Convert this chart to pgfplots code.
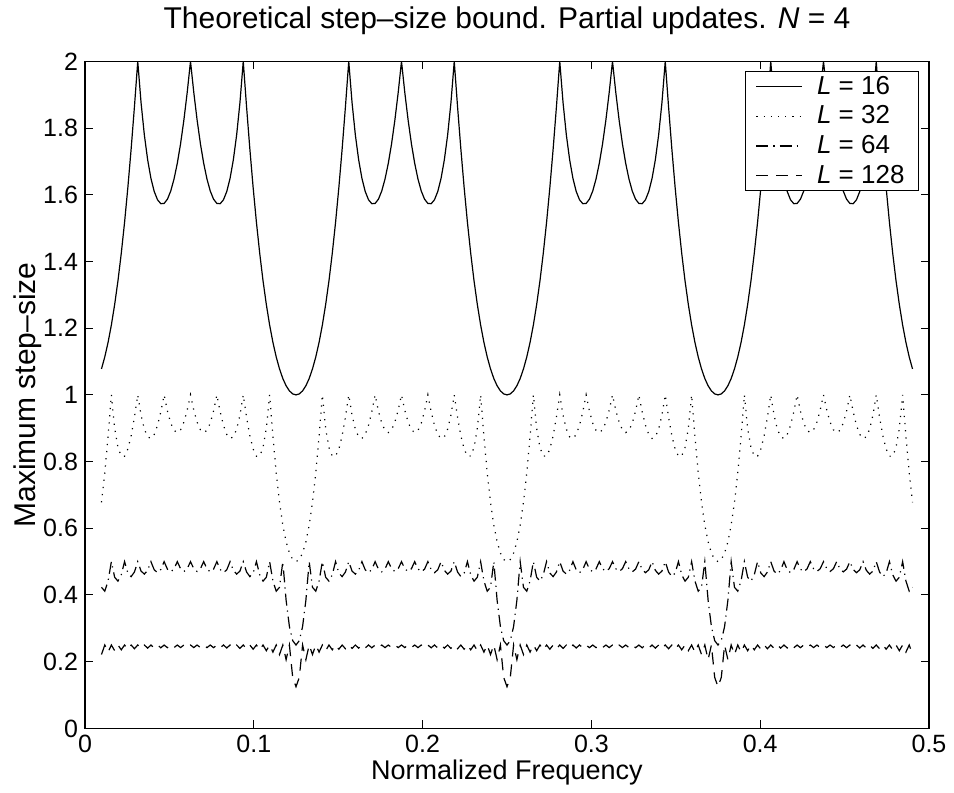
\documentclass[border=0pt]{standalone}
\usepackage{fontspec}
\setmainfont{Liberation Sans}
\usepackage{pgfplots}
\pgfplotsset{compat=1.18}
\usepackage{pgfplotstable}

% maximum step-size bound, N = 4, one column per filter length
\pgfplotstableread{
f L16 L32 L64 L128
0.009766 1.0779 0.6778 0.4231 0.2215
0.011719 1.1138 0.7666 0.4114 0.2500
0.013672 1.1575 0.8757 0.4420 0.2288
0.015625 1.2097 1.0000 0.5000 0.2500
0.017578 1.2711 0.8994 0.4532 0.2330
0.019531 1.3423 0.8421 0.4415 0.2500
0.021484 1.4242 0.8166 0.4604 0.2357
0.023438 1.5172 0.8163 0.5000 0.2500
0.025391 1.6219 0.8376 0.4655 0.2375
0.027344 1.7379 0.8777 0.4552 0.2500
0.029297 1.8646 0.9335 0.4691 0.2389
0.031250 2.0000 1.0000 0.5000 0.2500
0.033203 1.8765 0.9394 0.4719 0.2399
0.035156 1.7797 0.8974 0.4626 0.2500
0.037109 1.7052 0.8743 0.4739 0.2406
0.039063 1.6493 0.8693 0.5000 0.2500
0.041016 1.6099 0.8813 0.4755 0.2412
0.042969 1.5849 0.9089 0.4669 0.2500
0.044922 1.5733 0.9497 0.4767 0.2417
0.046875 1.5741 1.0000 0.5000 0.2500
0.048828 1.5868 0.9517 0.4776 0.2420
0.050781 1.6111 0.9154 0.4693 0.2500
0.052734 1.6471 0.8936 0.4782 0.2422
0.054688 1.6946 0.8870 0.5000 0.2500
0.056641 1.7538 0.8955 0.4786 0.2424
0.058594 1.8246 0.9184 0.4705 0.2500
0.060547 1.9069 0.9543 0.4788 0.2424
0.062500 2.0000 1.0000 0.5000 0.2500
0.064453 1.9069 0.9543 0.4788 0.2424
0.066406 1.8246 0.9184 0.4705 0.2500
0.068359 1.7538 0.8955 0.4786 0.2424
0.070313 1.6946 0.8870 0.5000 0.2500
0.072266 1.6471 0.8936 0.4782 0.2422
0.074219 1.6111 0.9154 0.4693 0.2500
0.076172 1.5868 0.9517 0.4776 0.2420
0.078125 1.5741 1.0000 0.5000 0.2500
0.080078 1.5733 0.9497 0.4767 0.2417
0.082031 1.5849 0.9089 0.4669 0.2500
0.083984 1.6099 0.8813 0.4755 0.2412
0.085938 1.6493 0.8693 0.5000 0.2500
0.087891 1.7052 0.8743 0.4739 0.2406
0.089844 1.7797 0.8974 0.4626 0.2500
0.091797 1.8765 0.9394 0.4719 0.2399
0.093750 2.0000 1.0000 0.5000 0.2500
0.095703 1.8646 0.9335 0.4691 0.2389
0.097656 1.7379 0.8777 0.4552 0.2500
0.099609 1.6219 0.8376 0.4655 0.2375
0.101563 1.5172 0.8163 0.5000 0.2500
0.103516 1.4242 0.8166 0.4604 0.2357
0.105469 1.3423 0.8421 0.4415 0.2500
0.107422 1.2711 0.8994 0.4532 0.2330
0.109375 1.2097 1.0000 0.5000 0.2500
0.111328 1.1575 0.8757 0.4420 0.2288
0.113281 1.1138 0.7666 0.4114 0.2500
0.115234 1.0779 0.6778 0.4231 0.2215
0.117188 1.0492 0.6095 0.5000 0.2500
0.119141 1.0274 0.5596 0.3843 0.2061
0.121094 1.0121 0.5258 0.3053 0.2500
0.123047 1.0030 0.5064 0.2631 0.1527
0.125000 1.0000 0.5000 0.2500 0.1250
0.126953 1.0030 0.5064 0.2631 0.1527
0.128906 1.0121 0.5258 0.3053 0.2500
0.130859 1.0274 0.5596 0.3843 0.2061
0.132813 1.0492 0.6095 0.5000 0.2500
0.134766 1.0779 0.6778 0.4231 0.2215
0.136719 1.1138 0.7666 0.4114 0.2500
0.138672 1.1575 0.8757 0.4420 0.2288
0.140625 1.2097 1.0000 0.5000 0.2500
0.142578 1.2711 0.8994 0.4532 0.2330
0.144531 1.3423 0.8421 0.4415 0.2500
0.146484 1.4242 0.8166 0.4604 0.2357
0.148438 1.5172 0.8163 0.5000 0.2500
0.150391 1.6219 0.8376 0.4655 0.2375
0.152344 1.7379 0.8777 0.4552 0.2500
0.154297 1.8646 0.9335 0.4691 0.2389
0.156250 2.0000 1.0000 0.5000 0.2500
0.158203 1.8765 0.9394 0.4719 0.2399
0.160156 1.7797 0.8974 0.4626 0.2500
0.162109 1.7052 0.8743 0.4739 0.2406
0.164063 1.6493 0.8693 0.5000 0.2500
0.166016 1.6099 0.8813 0.4755 0.2412
0.167969 1.5849 0.9089 0.4669 0.2500
0.169922 1.5733 0.9497 0.4767 0.2417
0.171875 1.5741 1.0000 0.5000 0.2500
0.173828 1.5868 0.9517 0.4776 0.2420
0.175781 1.6111 0.9154 0.4693 0.2500
0.177734 1.6471 0.8936 0.4782 0.2422
0.179688 1.6946 0.8870 0.5000 0.2500
0.181641 1.7538 0.8955 0.4786 0.2424
0.183594 1.8246 0.9184 0.4705 0.2500
0.185547 1.9069 0.9543 0.4788 0.2424
0.187500 2.0000 1.0000 0.5000 0.2500
0.189453 1.9069 0.9543 0.4788 0.2424
0.191406 1.8246 0.9184 0.4705 0.2500
0.193359 1.7538 0.8955 0.4786 0.2424
0.195313 1.6946 0.8870 0.5000 0.2500
0.197266 1.6471 0.8936 0.4782 0.2422
0.199219 1.6111 0.9154 0.4693 0.2500
0.201172 1.5868 0.9517 0.4776 0.2420
0.203125 1.5741 1.0000 0.5000 0.2500
0.205078 1.5733 0.9497 0.4767 0.2417
0.207031 1.5849 0.9089 0.4669 0.2500
0.208984 1.6099 0.8813 0.4755 0.2412
0.210938 1.6493 0.8693 0.5000 0.2500
0.212891 1.7052 0.8743 0.4739 0.2406
0.214844 1.7797 0.8974 0.4626 0.2500
0.216797 1.8765 0.9394 0.4719 0.2399
0.218750 2.0000 1.0000 0.5000 0.2500
0.220703 1.8646 0.9335 0.4691 0.2389
0.222656 1.7379 0.8777 0.4552 0.2500
0.224609 1.6219 0.8376 0.4655 0.2375
0.226563 1.5172 0.8163 0.5000 0.2500
0.228516 1.4242 0.8166 0.4604 0.2357
0.230469 1.3423 0.8421 0.4415 0.2500
0.232422 1.2711 0.8994 0.4532 0.2330
0.234375 1.2097 1.0000 0.5000 0.2500
0.236328 1.1575 0.8757 0.4420 0.2288
0.238281 1.1138 0.7666 0.4114 0.2500
0.240234 1.0779 0.6778 0.4231 0.2215
0.242188 1.0492 0.6095 0.5000 0.2500
0.244141 1.0274 0.5596 0.3843 0.2061
0.246094 1.0121 0.5258 0.3053 0.2500
0.248047 1.0030 0.5064 0.2631 0.1527
0.250000 1.0000 0.5000 0.2500 0.1250
0.251953 1.0030 0.5064 0.2631 0.1527
0.253906 1.0121 0.5258 0.3053 0.2500
0.255859 1.0274 0.5596 0.3843 0.2061
0.257813 1.0492 0.6095 0.5000 0.2500
0.259766 1.0779 0.6778 0.4231 0.2215
0.261719 1.1138 0.7666 0.4114 0.2500
0.263672 1.1575 0.8757 0.4420 0.2288
0.265625 1.2097 1.0000 0.5000 0.2500
0.267578 1.2711 0.8994 0.4532 0.2330
0.269531 1.3423 0.8421 0.4415 0.2500
0.271484 1.4242 0.8166 0.4604 0.2357
0.273438 1.5172 0.8163 0.5000 0.2500
0.275391 1.6219 0.8376 0.4655 0.2375
0.277344 1.7379 0.8777 0.4552 0.2500
0.279297 1.8646 0.9335 0.4691 0.2389
0.281250 2.0000 1.0000 0.5000 0.2500
0.283203 1.8765 0.9394 0.4719 0.2399
0.285156 1.7797 0.8974 0.4626 0.2500
0.287109 1.7052 0.8743 0.4739 0.2406
0.289063 1.6493 0.8693 0.5000 0.2500
0.291016 1.6099 0.8813 0.4755 0.2412
0.292969 1.5849 0.9089 0.4669 0.2500
0.294922 1.5733 0.9497 0.4767 0.2417
0.296875 1.5741 1.0000 0.5000 0.2500
0.298828 1.5868 0.9517 0.4776 0.2420
0.300781 1.6111 0.9154 0.4693 0.2500
0.302734 1.6471 0.8936 0.4782 0.2422
0.304688 1.6946 0.8870 0.5000 0.2500
0.306641 1.7538 0.8955 0.4786 0.2424
0.308594 1.8246 0.9184 0.4705 0.2500
0.310547 1.9069 0.9543 0.4788 0.2424
0.312500 2.0000 1.0000 0.5000 0.2500
0.314453 1.9069 0.9543 0.4788 0.2424
0.316406 1.8246 0.9184 0.4705 0.2500
0.318359 1.7538 0.8955 0.4786 0.2424
0.320313 1.6946 0.8870 0.5000 0.2500
0.322266 1.6471 0.8936 0.4782 0.2422
0.324219 1.6111 0.9154 0.4693 0.2500
0.326172 1.5868 0.9517 0.4776 0.2420
0.328125 1.5741 1.0000 0.5000 0.2500
0.330078 1.5733 0.9497 0.4767 0.2417
0.332031 1.5849 0.9089 0.4669 0.2500
0.333984 1.6099 0.8813 0.4755 0.2412
0.335938 1.6493 0.8693 0.5000 0.2500
0.337891 1.7052 0.8743 0.4739 0.2406
0.339844 1.7797 0.8974 0.4626 0.2500
0.341797 1.8765 0.9394 0.4719 0.2399
0.343750 2.0000 1.0000 0.5000 0.2500
0.345703 1.8646 0.9335 0.4691 0.2389
0.347656 1.7379 0.8777 0.4552 0.2500
0.349609 1.6219 0.8376 0.4655 0.2375
0.351563 1.5172 0.8163 0.5000 0.2500
0.353516 1.4242 0.8166 0.4604 0.2357
0.355469 1.3423 0.8421 0.4415 0.2500
0.357422 1.2711 0.8994 0.4532 0.2330
0.359375 1.2097 1.0000 0.5000 0.2500
0.361328 1.1575 0.8757 0.4420 0.2288
0.363281 1.1138 0.7666 0.4114 0.2500
0.365234 1.0779 0.6778 0.4231 0.2215
0.367188 1.0492 0.6095 0.5000 0.2500
0.369141 1.0274 0.5596 0.3843 0.2061
0.371094 1.0121 0.5258 0.3053 0.2500
0.373047 1.0030 0.5064 0.2631 0.1527
0.375000 1.0000 0.5000 0.2500 0.1250
0.376953 1.0030 0.5064 0.2631 0.1527
0.378906 1.0121 0.5258 0.3053 0.2500
0.380859 1.0274 0.5596 0.3843 0.2061
0.382813 1.0492 0.6095 0.5000 0.2500
0.384766 1.0779 0.6778 0.4231 0.2215
0.386719 1.1138 0.7666 0.4114 0.2500
0.388672 1.1575 0.8757 0.4420 0.2288
0.390625 1.2097 1.0000 0.5000 0.2500
0.392578 1.2711 0.8994 0.4532 0.2330
0.394531 1.3423 0.8421 0.4415 0.2500
0.396484 1.4242 0.8166 0.4604 0.2357
0.398438 1.5172 0.8163 0.5000 0.2500
0.400391 1.6219 0.8376 0.4655 0.2375
0.402344 1.7379 0.8777 0.4552 0.2500
0.404297 1.8646 0.9335 0.4691 0.2389
0.406250 2.0000 1.0000 0.5000 0.2500
0.408203 1.8765 0.9394 0.4719 0.2399
0.410156 1.7797 0.8974 0.4626 0.2500
0.412109 1.7052 0.8743 0.4739 0.2406
0.414063 1.6493 0.8693 0.5000 0.2500
0.416016 1.6099 0.8813 0.4755 0.2412
0.417969 1.5849 0.9089 0.4669 0.2500
0.419922 1.5733 0.9497 0.4767 0.2417
0.421875 1.5741 1.0000 0.5000 0.2500
0.423828 1.5868 0.9517 0.4776 0.2420
0.425781 1.6111 0.9154 0.4693 0.2500
0.427734 1.6471 0.8936 0.4782 0.2422
0.429688 1.6946 0.8870 0.5000 0.2500
0.431641 1.7538 0.8955 0.4786 0.2424
0.433594 1.8246 0.9184 0.4705 0.2500
0.435547 1.9069 0.9543 0.4788 0.2424
0.437500 2.0000 1.0000 0.5000 0.2500
0.439453 1.9069 0.9543 0.4788 0.2424
0.441406 1.8246 0.9184 0.4705 0.2500
0.443359 1.7538 0.8955 0.4786 0.2424
0.445313 1.6946 0.8870 0.5000 0.2500
0.447266 1.6471 0.8936 0.4782 0.2422
0.449219 1.6111 0.9154 0.4693 0.2500
0.451172 1.5868 0.9517 0.4776 0.2420
0.453125 1.5741 1.0000 0.5000 0.2500
0.455078 1.5733 0.9497 0.4767 0.2417
0.457031 1.5849 0.9089 0.4669 0.2500
0.458984 1.6099 0.8813 0.4755 0.2412
0.460938 1.6493 0.8693 0.5000 0.2500
0.462891 1.7052 0.8743 0.4739 0.2406
0.464844 1.7797 0.8974 0.4626 0.2500
0.466797 1.8765 0.9394 0.4719 0.2399
0.468750 2.0000 1.0000 0.5000 0.2500
0.470703 1.8646 0.9335 0.4691 0.2389
0.472656 1.7379 0.8777 0.4552 0.2500
0.474609 1.6219 0.8376 0.4655 0.2375
0.476563 1.5172 0.8163 0.5000 0.2500
0.478516 1.4242 0.8166 0.4604 0.2357
0.480469 1.3423 0.8421 0.4415 0.2500
0.482422 1.2711 0.8994 0.4532 0.2330
0.484375 1.2097 1.0000 0.5000 0.2500
0.486328 1.1575 0.8757 0.4420 0.2288
0.488281 1.1138 0.7666 0.4114 0.2500
0.490234 1.0779 0.6778 0.4231 0.2215
}\stepdata

\begin{document}
\begin{tikzpicture}
\begin{axis}[
    scale only axis,
    width=422pt, height=333.5pt,
    xmin=0, xmax=0.5,
    ymin=0, ymax=2,
    xtick={0,0.1,0.2,0.3,0.4,0.5},
    ytick={0,0.2,0.4,0.6,0.8,1,1.2,1.4,1.6,1.8,2},
    /pgf/number format/assume math mode=true,
    tick label style={font=\fontsize{12.5}{14}\selectfont},
    major tick length=4pt,
    tick style={black, line width=0.5pt},
    axis line style={black, line width=0.6pt},
    title={Theoretical step--size bound. Partial updates. \textit{N} = 4},
    title style={font=\fontsize{15}{17}\selectfont, at={(axis description cs:0.5,1.0315)}, anchor=base},
    xlabel={Normalized Frequency},
    xlabel style={font=\fontsize{13.5}{15}\selectfont, at={(axis description cs:0.5,-0.0765)}, anchor=base},
    ylabel={Maximum step--size},
    ylabel style={font=\fontsize{15}{17}\selectfont, at={(axis description cs:-0.0675,0.5)}, anchor=center},
    legend style={at={(axis description cs:1,1)}, anchor=north east,
        xshift=-5pt, yshift=-5pt, draw=black, line width=0.5pt, fill=white,
        font=\fontsize{13}{15}\selectfont, row sep=0.3pt, column sep=5pt,
        inner xsep=5pt, inner ysep=0pt},
    legend cell align=left,
    legend image code/.code={\draw[#1] (0pt,0pt) -- (23pt,0pt);},
]
\addplot[black, line width=0.6pt] table[x=f, y=L16] {\stepdata};
\addlegendentry{\textit{L} = 16}
\addplot[black, line width=0.6pt, dash pattern=on 0.6pt off 3pt] table[x=f, y=L32] {\stepdata};
\addlegendentry{\textit{L} = 32}
\addplot[black, line width=0.6pt, dash pattern=on 6pt off 2.5pt on 0.6pt off 2.5pt] table[x=f, y=L64] {\stepdata};
\addlegendentry{\textit{L} = 64}
\addplot[black, line width=0.6pt, dash pattern=on 6pt off 4pt] table[x=f, y=L128] {\stepdata};
\addlegendentry{\textit{L} = 128}
\end{axis}
\path (current axis.south west) ++(-42.5pt,-32pt) rectangle ([shift={(12.5pt,27pt)}]current axis.north east);
\end{tikzpicture}
\end{document}
